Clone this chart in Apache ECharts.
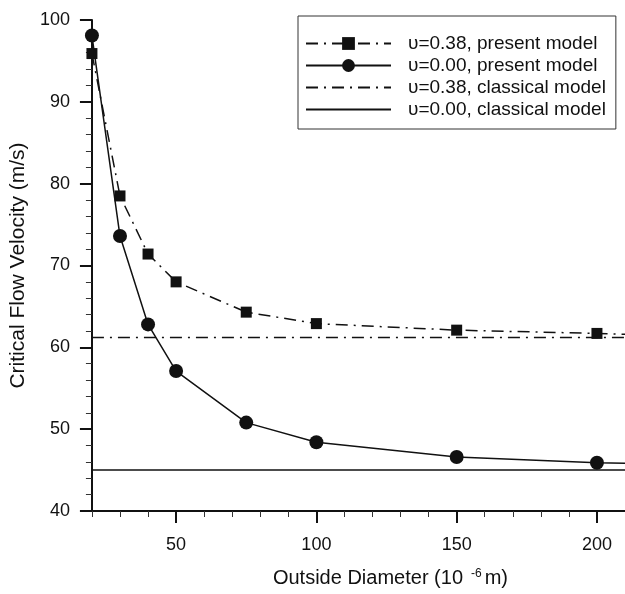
<!DOCTYPE html>
<html>
<head>
<meta charset="utf-8">
<script src="https://cdn.jsdelivr.net/npm/echarts@6/dist/echarts.min.js"></script>
<style>
  html, body { margin: 0; padding: 0; background: #fff; }
  #chart { width: 625px; height: 594px; }
</style>
</head>
<body>
<div id="chart"></div>
<script>
// outside diameter (10^-6 m)
const diameters = [20, 30, 40, 50, 75, 100, 150, 200, 210]
// critical flow velocity (m/s), last value is where the curve meets the frame
const present038 = [95.9, 78.5, 71.4, 68.0, 64.3, 62.9, 62.1, 61.7, 61.6]
const present000 = [98.1, 73.6, 62.8, 57.1, 50.8, 48.4, 46.6, 45.9, 45.85]
const classicalX = [20, 210]
const classical038 = [61.2, 61.2]
const classical000 = [45.0, 45.0]

const xMajorTicks = [50, 100, 150, 200]
const xMinorTicks = [20, 30, 40, 60, 70, 80, 90, 110, 120, 130, 140, 160, 170, 180, 190]

const seriesNames = [
  'υ=0.38, present model',
  'υ=0.00, present model',
  'υ=0.38, classical model',
  'υ=0.00, classical model'
]

const font = 'Liberation Sans, Arial, Helvetica, sans-serif'
const ink = '#111'
const dashDot = [12, 6, 2, 6]

function pairs (xs, ys, markLast) {
  return xs.map((x, i) => {
    const item = { value: [x, ys[i]] }
    if (markLast && i === xs.length - 1) item.symbol = 'none'
    return item
  })
}

const chart = echarts.init(document.getElementById('chart'))

chart.setOption({
  animation: false,
  textStyle: { fontFamily: font, color: ink },
  grid: { left: 87, right: 0, top: 20, bottom: 83 },
  legend: {
    orient: 'vertical',
    left: 298,
    top: 16,
    padding: [18, 10, 10, 7],
    borderColor: '#333',
    borderWidth: 1,
    itemWidth: 85,
    itemHeight: 16,
    itemGap: 3,
    textStyle: { fontSize: 19, lineHeight: 19, color: ink, fontFamily: font, padding: [0, 0, 0, 12] },
    data: [
      { name: seriesNames[0] },
      { name: seriesNames[1] },
      { name: seriesNames[2], itemStyle: { opacity: 0 } },
      { name: seriesNames[3], itemStyle: { opacity: 0 } }
    ]
  },
  xAxis: [{
    type: 'value',
    min: 20,
    max: 210,
    name: 'Outside Diameter (10{sup|-6}m)',
    nameLocation: 'middle',
    nameGap: 57,
    nameTextStyle: {
      fontSize: 20,
      color: ink,
      padding: [0, 0, 0, 64],
      rich: { sup: { fontSize: 12, verticalAlign: 'top', padding: [0, 3, 9, 8], color: ink } }
    },
    axisLine: { lineStyle: { color: ink, width: 2 } },
    axisTick: { customValues: xMajorTicks, length: 12, lineStyle: { color: ink, width: 2 } },
    axisLabel: { customValues: xMajorTicks, fontSize: 18, color: ink, margin: 25 },
    splitLine: { show: false }
  }, {
    type: 'value',
    min: 20,
    max: 210,
    position: 'bottom',
    axisLine: { show: false },
    axisTick: { customValues: xMinorTicks, length: 6, lineStyle: { color: '#333', width: 1 } },
    axisLabel: { show: false },
    splitLine: { show: false }
  }],
  yAxis: {
    type: 'value',
    min: 40,
    max: 100,
    interval: 10,
    name: 'Critical Flow Velocity (m/s)',
    nameLocation: 'middle',
    nameGap: 56,
    nameTextStyle: { fontSize: 21, color: ink },
    axisLine: { lineStyle: { color: ink, width: 2 } },
    axisTick: { length: 12, lineStyle: { color: ink, width: 2 } },
    minorTick: { show: true, splitNumber: 5, length: 6, lineStyle: { color: '#333', width: 1 } },
    axisLabel: { fontSize: 18, color: ink, margin: 22 },
    splitLine: { show: false }
  },
  series: [{
    name: seriesNames[0],
    type: 'line',
    data: pairs(diameters, present038, true),
    symbol: 'rect',
    symbolSize: 11,
    itemStyle: { color: ink },
    lineStyle: { color: ink, width: 1.5, type: dashDot },
    z: 3
  }, {
    name: seriesNames[1],
    type: 'line',
    data: pairs(diameters, present000, true),
    symbol: 'circle',
    symbolSize: 14,
    itemStyle: { color: ink },
    lineStyle: { color: ink, width: 1.5 },
    z: 4
  }, {
    name: seriesNames[2],
    type: 'line',
    data: pairs(classicalX, classical038),
    symbol: 'none',
    itemStyle: { color: ink },
    lineStyle: { color: ink, width: 1.5, type: dashDot }
  }, {
    name: seriesNames[3],
    type: 'line',
    data: pairs(classicalX, classical000),
    symbol: 'none',
    itemStyle: { color: ink },
    lineStyle: { color: ink, width: 1.5 }
  }]
})
</script>
</body>
</html>
